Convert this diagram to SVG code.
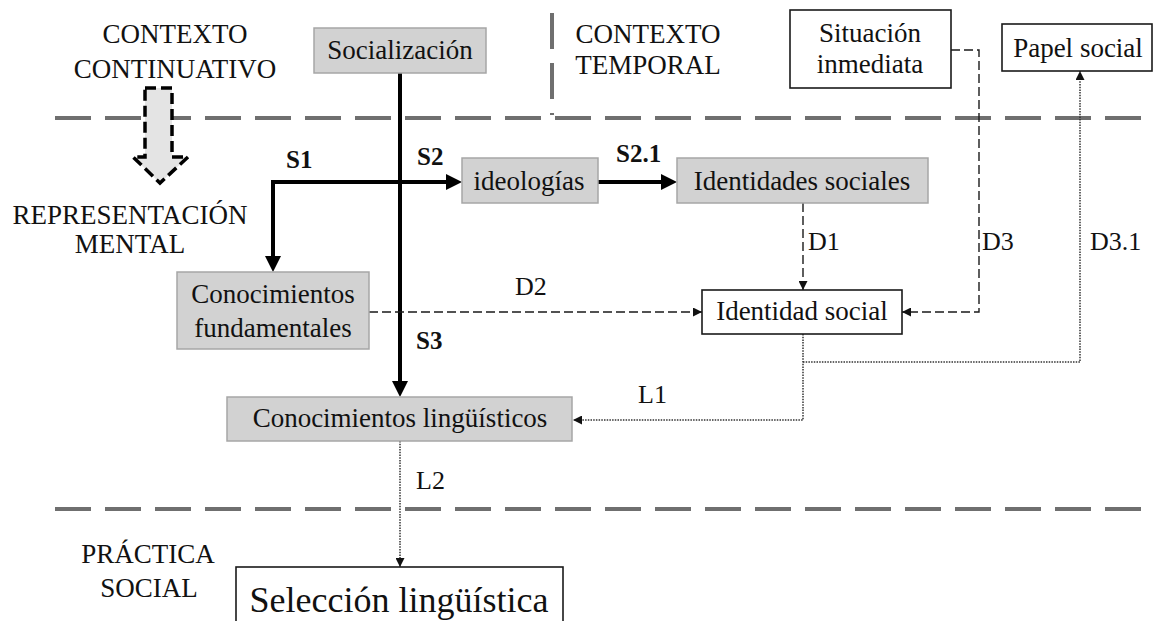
<svg xmlns="http://www.w3.org/2000/svg" width="1155" height="621" viewBox="0 0 1155 621">
<style>
  text { font-family: "Liberation Serif", "DejaVu Serif", serif; fill: #111; }
  .t { font-size: 27px; text-anchor: middle; }
  .lab { font-size: 26px; }
  .b { font-size: 25px; font-weight: bold; }
  .gbox { fill: #d2d2d2; stroke: #a6a6a6; stroke-width: 1.5; }
  .wbox { fill: #ffffff; stroke: #1a1a1a; stroke-width: 1.6; }
  .sep { stroke: #6f6f6f; stroke-width: 4; stroke-dasharray: 36 14; fill: none; }
  .thick { stroke: #000; stroke-width: 4; fill: none; }
  .dash { stroke: #1a1a1a; stroke-width: 1.4; stroke-dasharray: 9 4; fill: none; }
  .dot { stroke: #333; stroke-width: 1.5; stroke-dasharray: 1.5 1.2; fill: none; }
</style>
<defs>
  <marker id="ah" viewBox="0 0 16 16" refX="10" refY="8" markerWidth="16" markerHeight="16" markerUnits="userSpaceOnUse" orient="auto-start-reverse">
    <path d="M0,0 L16,8 L0,16 z" fill="#000"/>
  </marker>
  <marker id="as" viewBox="0 0 10 10" refX="10" refY="5" markerWidth="9" markerHeight="9" markerUnits="userSpaceOnUse" orient="auto">
    <path d="M0,0 L10,5 L0,10 z" fill="#111"/>
  </marker>
</defs>

<g id="separators">
  <line class="sep" x1="55" y1="118" x2="1155" y2="118"/>
  <line class="sep" x1="55" y1="509" x2="1155" y2="509"/>
  <line class="sep" x1="552" y1="13" x2="552" y2="115"/>
</g>

<g id="labels">
  <text class="t" x="175" y="43">CONTEXTO</text>
  <text class="t" x="175" y="78">CONTINUATIVO</text>
  <text class="t" x="648" y="43">CONTEXTO</text>
  <text class="t" x="648" y="74">TEMPORAL</text>
  <text class="t" x="130" y="224">REPRESENTACIÓN</text>
  <text class="t" x="130" y="253">MENTAL</text>
  <text class="t" x="148" y="563">PRÁCTICA</text>
  <text class="t" x="149" y="597">SOCIAL</text>
</g>

<g id="block-arrow">
  <polygon points="145,88 172,88 172,157 188,157 160,183 133,157 145,157" fill="#e4e4e4" stroke="#000" stroke-width="3.5" stroke-dasharray="11 5"/>
</g>

<g id="connectors">
  <path class="thick" d="M400,73 V391" marker-end="url(#ah)"/>
  <path class="thick" d="M273,266 V182 H456" marker-start="url(#ah)" marker-end="url(#ah)"/>
  <path class="thick" d="M598,182 H671" marker-end="url(#ah)"/>
  <path class="dash" d="M803,203 V290" marker-end="url(#as)"/>
  <path class="dash" d="M369,312 H702" marker-end="url(#as)"/>
  <path class="dash" d="M951,50 H979 V312 H902" marker-end="url(#as)"/>
  <path class="dot" d="M803,334 V420 H573" marker-end="url(#as)"/>
  <path class="dot" d="M803,362 H1080 V71" marker-end="url(#as)"/>
  <path class="dot" d="M400,441 V567" marker-end="url(#as)"/>
  <text class="b" x="286" y="168">S1</text>
  <text class="b" x="417" y="165">S2</text>
  <text class="b" x="616" y="162">S2.1</text>
  <text class="b" x="416" y="349">S3</text>
  <text class="lab" x="808" y="250">D1</text>
  <text class="lab" x="515" y="295">D2</text>
  <text class="lab" x="982" y="250">D3</text>
  <text class="lab" x="1090" y="250">D3.1</text>
  <text class="lab" x="638" y="403">L1</text>
  <text class="lab" x="416" y="489">L2</text>
</g>

<g id="socializacion">
  <rect class="gbox" x="314" y="28" width="172" height="45"/>
  <text class="t" x="400" y="59">Socialización</text>
</g>
<g id="ideologias">
  <rect class="gbox" x="462" y="158" width="136" height="45"/>
  <text class="t" x="529" y="190">ideologías</text>
</g>
<g id="identidades-sociales">
  <rect class="gbox" x="677" y="158" width="251" height="45"/>
  <text class="t" x="802" y="190">Identidades sociales</text>
</g>
<g id="conocimientos-fundamentales">
  <rect class="gbox" x="177" y="272" width="192" height="77"/>
  <text class="t" x="273" y="303">Conocimientos</text>
  <text class="t" x="273" y="337">fundamentales</text>
</g>
<g id="conocimientos-linguisticos">
  <rect class="gbox" x="227" y="397" width="345" height="44"/>
  <text class="t" x="400" y="427">Conocimientos lingüísticos</text>
</g>
<g id="situacion-inmediata">
  <rect class="wbox" x="790" y="10" width="161" height="78"/>
  <text class="t" x="870" y="42">Situación</text>
  <text class="t" x="870" y="73">inmediata</text>
</g>
<g id="papel-social">
  <rect class="wbox" x="1002" y="24" width="150" height="47"/>
  <text class="t" x="1078" y="57">Papel social</text>
</g>
<g id="identidad-social">
  <rect class="wbox" x="702" y="290" width="200" height="44"/>
  <text class="t" x="802" y="320">Identidad social</text>
</g>
<g id="seleccion-linguistica">
  <rect class="wbox" x="236" y="567" width="327" height="70"/>
  <text class="t" x="399" y="612" style="font-size:36px">Selección lingüística</text>
</g>
</svg>
